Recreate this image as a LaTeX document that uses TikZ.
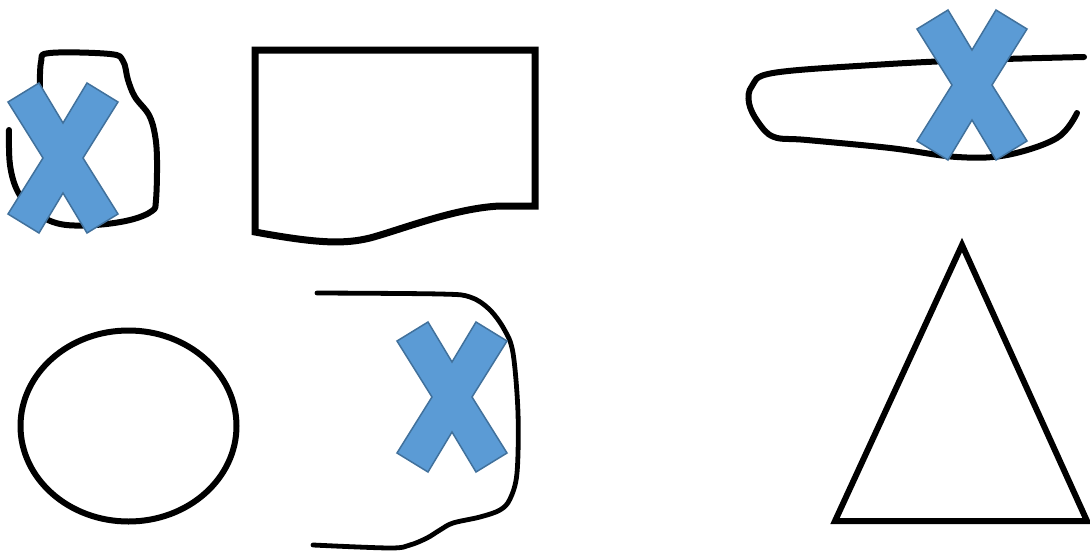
\documentclass[tikz,border=0pt]{standalone}
\definecolor{xfill}{HTML}{5B9BD5}
\definecolor{xedge}{HTML}{41719C}
\tikzset{
  ink/.style={draw=black, line width=6pt, line cap=round, line join=round},
  inkthin/.style={draw=black, line width=4.8pt, line cap=round, line join=round},
  cross/.pic={
    \filldraw[fill=xfill, draw=xedge, line width=1.5pt, line join=miter]
      (-55,-56) -- (-24,-75) -- (0,-35) -- (24,-75) -- (55,-56) -- (20,0)
      -- (55,56) -- (24,75) -- (0,35) -- (-24,75) -- (-55,56) -- (-20,0) -- cycle;
  }
}
\begin{document}
\begin{tikzpicture}[x=1pt,y=-1pt]
\useasboundingbox (0,0) rectangle (1090,552);
% blob top-left
\draw[ink] plot[smooth, tension=0.6] coordinates {
  (40,95) (41,62) (50,53) (110,54) (123,61) (128,80) (135,97) (149,115)
  (155,135) (157,160) (156,200) (152,211) (130,220) (95,225) (60,224)
  (35,212) (18,192) (10,165) (9,130)};
% document shape
\draw[ink, line width=7pt, line cap=butt, line join=miter]
  (255,232) -- (255,50) -- (535,50) -- (535,206) -- (500,206)
  .. controls (455,208) and (400,230) .. (370,238)
  .. controls (345,244) and (320,244) .. (255,232) -- cycle;
% long blob top right
\draw[ink] plot[smooth, tension=0.6] coordinates {
  (1084,57) (973,60) (873,65) (773,73) (752,86) (749,103) (758,122)
  (774,137) (807,140) (890,148) (957,157) (1007,155) (1057,138) (1077,113)};
% ellipse
\draw[ink] (128.5,426) ellipse [x radius=108, y radius=95.5];
% D shape
\draw[inkthin] plot[smooth, tension=0.55] coordinates {
  (317,293) (440,294) (470,297) (489,309) (504,329) (513,353) (518,413)
  (517,473) (510,499) (500,510) (480,517) (453,523) (440,530) (427,538)
  (410,545) (390,548) (313,545)};
% triangle
\draw[ink, line width=6pt, line cap=butt, line join=miter]
  (962,245) -- (1087,521) -- (835,521) -- cycle;
% crosses
\pic at (63,158) {cross};
\pic at (972,85) {cross};
\pic at (452,397) {cross};
\end{tikzpicture}
\end{document}
